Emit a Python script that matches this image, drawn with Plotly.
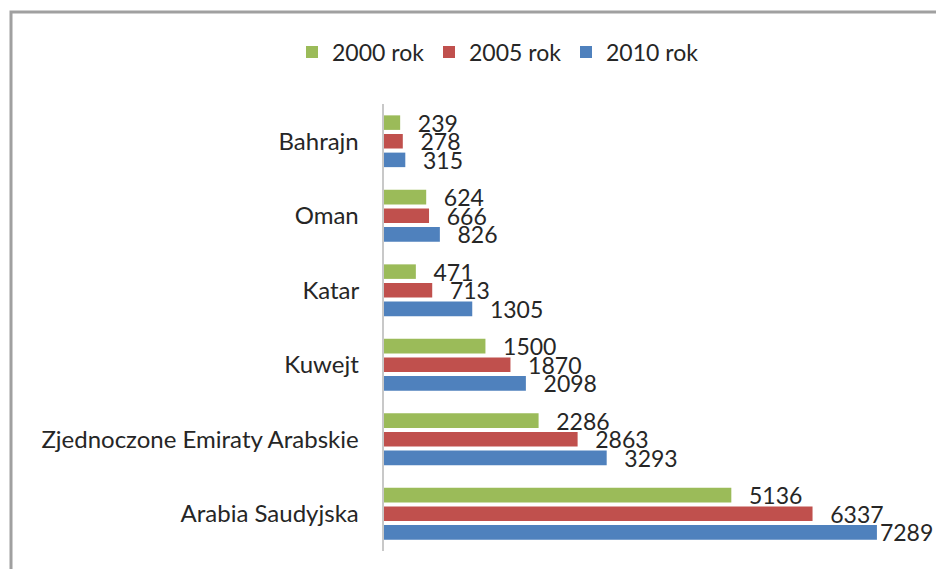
import plotly.graph_objects as go

categories = ["Bahrajn", "Oman", "Katar", "Kuwejt", "Zjednoczone Emiraty Arabskie", "Arabia Saudyjska"]
series_names = ["2000 rok", "2005 rok", "2010 rok"]
v2000 = [239, 624, 471, 1500, 2286, 5136]
v2005 = [278, 666, 713, 1870, 2863, 6337]
v2010 = [315, 826, 1305, 2098, 3293, 7289]
colors = ["#9BBB59", "#C0504D", "#4F81BD"]

# page body has an 8px margin; work in window pixels and convert
OFF = 8
W, H = 944 - OFF, 569 - OFF
L = 384 - OFF
T = 104 - OFF
B = H - (551 - OFF)
R = W - (925 - OFF)
pw, ph = W - L - R, H - T - B
XMAX = 8000

FONT = "Lato, Open Sans, sans-serif"
TXT = "#262626"

fig = go.Figure()
for name, vals, col in zip(series_names, [v2000, v2005, v2010], colors):
    # labels sit a little right of the bar end; the one near the edge hugs its bar
    templates = ["%{text}" if v > 0.9 * XMAX else "\u00a0\u00a0\u2009%{text}" for v in vals]
    fig.add_trace(go.Bar(
        y=categories, x=vals, name=name, orientation="h",
        marker=dict(color=col, line=dict(width=0)),
        text=[str(v) for v in vals],
        texttemplate=templates,
        textposition="outside", constraintext="none", cliponaxis=False,
        textfont=dict(family=FONT, size=23, color=TXT),
    ))

def wx(p):
    return (p - OFF - L) / pw

def wy(p):
    return 1 - (p - OFF - T) / ph

fig.add_shape(type="rect", xref="paper", yref="paper",
              x0=wx(11), x1=wx(990),
              y0=wy(620), y1=wy(12),
              line=dict(color="#A0A0A0", width=3), fillcolor="rgba(0,0,0,0)", layer="below")

fig.update_layout(
    width=W, height=H,
    margin=dict(l=L, r=R, t=T, b=B, pad=0, autoexpand=False),
    paper_bgcolor="white", plot_bgcolor="white",
    barmode="group", bargap=0.25, bargroupgap=0.22,
    font=dict(family=FONT, size=23, color=TXT),
    showlegend=True,
    legend=dict(orientation="h", x=wx(292), xanchor="left",
                y=wy(52), yanchor="middle", itemwidth=30,
                entrywidth=92, entrywidthmode="pixels",
                font=dict(family=FONT, size=23, color=TXT), traceorder="normal"),
    xaxis=dict(range=[0, XMAX], visible=False, showgrid=False, zeroline=False),
    yaxis=dict(autorange="reversed", showline=True, linecolor="#C8C8C8", linewidth=2,
               ticks="", showgrid=False, ticksuffix="   ", automargin=False,
               tickfont=dict(family=FONT, size=24, color=TXT)),
)

fig.write_html("out.html")
